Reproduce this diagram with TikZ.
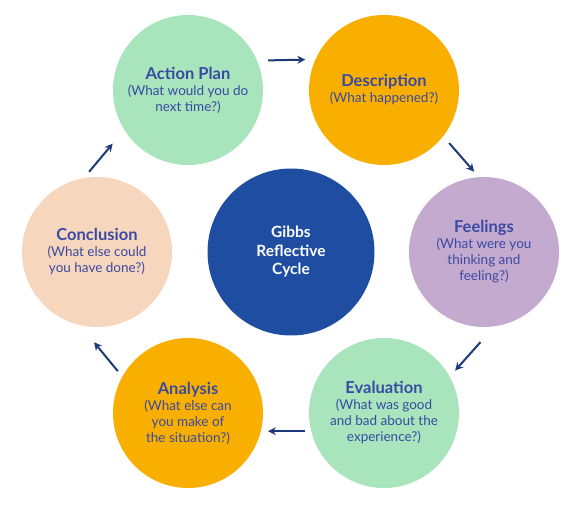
\documentclass[tikz,border=0pt]{standalone}
\usepackage{fontspec}
\setmainfont{Lato}
\usetikzlibrary{arrows.meta}
\definecolor{mint}{HTML}{A8E4BC}
\definecolor{amber}{HTML}{F9AF00}
\definecolor{lavender}{HTML}{C4AACF}
\definecolor{peach}{HTML}{F7D6BE}
\definecolor{navy}{HTML}{1E4DA2}
\definecolor{inkblue}{HTML}{3A4AA2}
\definecolor{arrowblue}{HTML}{1C3A7A}
\newcommand{\stagetitle}[1]{{\fontsize{16.5}{17}\selectfont\bfseries #1}}

\begin{document}
\begin{tikzpicture}[x=1pt,y=1pt,
    stage/.style={circle,minimum size=150pt,inner sep=0pt,text=inkblue,align=center,font=\fontsize{13.5}{16}\selectfont},
    cyc/.style={-{Stealth[length=8pt,width=8pt]},line width=2pt,draw=arrowblue}]
    \useasboundingbox (0,0) rectangle (582,512);
    \node [circle,minimum size=167pt,inner sep=0pt,fill=navy,text=white,align=center,font=\fontsize{15.5}{18.5}\selectfont\bfseries] (gibbs) at (291,260) {Gibbs\\Reflective\\Cycle};
    \node [stage,fill=mint] (plan) at (188,422) {\stagetitle{Action Plan}\\(What would you do\\next time?)};
    \node [stage,fill=amber] (desc) at (384,422) {\stagetitle{Description}\\(What happened?)};
    \node [stage,fill=lavender] (feel) at (484,260) {\stagetitle{Feelings}\\(What were you\\thinking and\\feeling?)};
    \node [stage,fill=mint] (eval) at (384,99) {\stagetitle{Evaluation}\\(What was good\\and bad about the\\experience?)};
    \node [stage,fill=amber] (anal) at (188,99) {\stagetitle{Analysis}\\(What else can\\you make of\\the situation?)};
    \node [stage,fill=peach] (concl) at (97,260) {\stagetitle{Conclusion}\\(What else could\\you have done?)};
    % from/anchor/to/anchor/gap at start/gap at tip
    \foreach \a/\s/\b/\e/\p/\q in {plan/23.6/desc/156.4/11/10,desc/-38/feel/94/9/7,feel/-82/eval/29/21/8,eval/194.7/anal/-14.7/6/7,anal/151/concl/-103/7/22,concl/100/plan/212/8/18} {
        \draw [cyc,shorten <=\p pt,shorten >=\q pt] (\a.\s) -- (\b.\e);
    }
\end{tikzpicture}
\end{document}
